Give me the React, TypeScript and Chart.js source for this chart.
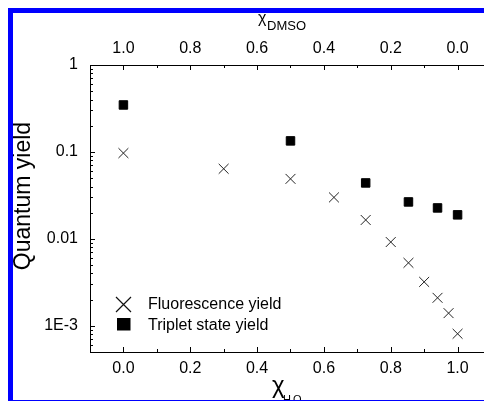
import React, { useEffect, useRef } from "react";
import { Chart, registerables } from "chart.js";

Chart.register(...registerables);

// ---- data ----
const fluoX = [0.0, 0.30, 0.50, 0.63, 0.725, 0.80, 0.853, 0.90, 0.94, 0.973, 1.0];
const fluoY = [0.097, 0.064, 0.049, 0.030, 0.0165, 0.0092, 0.0053, 0.0032, 0.0021, 0.0014, 0.00081];
const tripX = [0.0, 0.50, 0.725, 0.853, 0.94, 1.0];
const tripY = [0.347, 0.134, 0.044, 0.0266, 0.0227, 0.0189];

const fluoLabel = "Fluorescence yield";
const tripLabel = "Triplet state yield";

const xMajorTicks = [0.0, 0.2, 0.4, 0.6, 0.8, 1.0];
const xBottomLabels = ["0.0", "0.2", "0.4", "0.6", "0.8", "1.0"];
const xTopLabels = ["1.0", "0.8", "0.6", "0.4", "0.2", "0.0"];
const yDecadeTicks = [1e-3, 1e-2, 1e-1, 1];
const yTickLabels = ["1E-3", "0.01", "0.1", "1"];

const X_MIN = -0.1;
const X_MAX = 1.1;
const Y_MIN = 5e-4;
const Y_MAX = 1;

const FONT = '"Liberation Sans", Arial, sans-serif';

const decorPlugin = {
  id: "decor",
  afterDraw(chart: any) {
    const ctx = chart.ctx as CanvasRenderingContext2D;
    const xs = chart.scales.x;
    const ys = chart.scales.y;
    const area = chart.chartArea;
    ctx.save();
    ctx.strokeStyle = "#000";
    ctx.lineWidth = 1;
    ctx.beginPath();
    // x ticks (inward), bottom and top
    for (let i = -1; i <= 11; i++) {
      const v = i / 10;
      const px = Math.round(xs.getPixelForValue(v)) + 0.5;
      const major = i >= 0 && i % 2 === 0;
      const len = major ? 5 : 3;
      ctx.moveTo(px, area.bottom);
      ctx.lineTo(px, area.bottom - len);
      ctx.moveTo(px, area.top);
      ctx.lineTo(px, area.top + len);
    }
    // y log ticks (inward)
    for (let d = -4; d <= 0; d++) {
      for (let m = 1; m <= 9; m++) {
        const v = m * Math.pow(10, d);
        if (v < Y_MIN * 0.999 || v > Y_MAX * 1.001) continue;
        const py = Math.round(ys.getPixelForValue(v)) + 0.5;
        const len = m === 1 ? 5 : 3;
        ctx.moveTo(area.left, py);
        ctx.lineTo(area.left + len, py);
      }
    }
    ctx.stroke();

    ctx.fillStyle = "#000";
    // y title
    ctx.save();
    ctx.translate(29.5, 196);
    ctx.rotate(-Math.PI / 2);
    ctx.font = `23px ${FONT}`;
    ctx.textAlign = "center";
    ctx.textBaseline = "alphabetic";
    ctx.fillText("Quantum yield", 0, 0);
    ctx.restore();

    // top title chi_DMSO
    ctx.textAlign = "left";
    ctx.textBaseline = "alphabetic";
    ctx.font = `16px ${FONT}`;
    ctx.fillText("\u03c7", 258, 23);
    ctx.font = `13px ${FONT}`;
    ctx.fillText("DMSO", 267, 29.5);

    // bottom title chi_H2O
    ctx.font = `24px ${FONT}`;
    ctx.fillText("\u03c7", 272, 392.5);
    ctx.font = `11px ${FONT}`;
    ctx.fillText("H", 283, 403);
    ctx.font = `7px ${FONT}`;
    ctx.fillText("2", 291.5, 409);
    ctx.font = `11px ${FONT}`;
    ctx.fillText("O", 293, 403);

    // legend
    const ds0 = chart.data.datasets[0];
    const ds1 = chart.data.datasets[1];
    ctx.strokeStyle = "#111";
    ctx.lineWidth = 1.2;
    ctx.beginPath();
    const cx = 123.5, cy = 304.5, h = 7.5;
    ctx.moveTo(cx - h, cy - h);
    ctx.lineTo(cx + h, cy + h);
    ctx.moveTo(cx + h, cy - h);
    ctx.lineTo(cx - h, cy + h);
    ctx.stroke();
    ctx.fillStyle = "#000";
    ctx.fillRect(117, 318, 13.5, 12.5);
    ctx.font = `16px ${FONT}`;
    ctx.fillText(ds0.label, 148, 308.5);
    ctx.fillText(ds1.label, 148, 329.5);
    ctx.restore();
  },
};

export default function App() {
  const ref = useRef<HTMLCanvasElement | null>(null);

  useEffect(() => {
    if (!ref.current) return;
    const tickFont = { family: FONT, size: 16 };
    const chart = new Chart(ref.current, {
      type: "scatter",
      data: {
        datasets: [
          {
            label: fluoLabel,
            data: fluoX.map((x, i) => ({ x, y: fluoY[i] })),
            pointStyle: "crossRot",
            pointRadius: 7,
            pointBorderWidth: 1,
            borderColor: "#222",
            backgroundColor: "#222",
            showLine: false,
            xAxisID: "x",
            yAxisID: "y",
          },
          {
            label: tripLabel,
            data: tripX.map((x, i) => ({ x, y: tripY[i] })),
            pointStyle: "rect",
            pointRadius: 6,
            pointBorderWidth: 1,
            borderColor: "#000",
            backgroundColor: "#000",
            showLine: false,
            xAxisID: "x",
            yAxisID: "y",
          },
        ],
      },
      options: {
        responsive: false,
        animation: false,
        layout: { padding: { left: 0, right: 9, top: 0, bottom: 0 } },
        plugins: { legend: { display: false }, tooltip: { enabled: false } },
        scales: {
          x: {
            type: "linear",
            position: "bottom",
            min: X_MIN,
            max: X_MAX,
            afterBuildTicks: (s: any) => {
              s.ticks = xMajorTicks.map((v) => ({ value: v }));
            },
            ticks: {
              callback: (_v: any, i: number) => xBottomLabels[i],
              font: tickFont,
              color: "#000",
              padding: 7,
              maxRotation: 0,
              autoSkip: false,
            },
            grid: { display: false, drawTicks: false },
            border: { display: true, color: "#000", width: 1 },
            afterFit: (s: any) => {
              s.height = 50;
            },
          },
          x2: {
            type: "linear",
            position: "top",
            min: X_MIN,
            max: X_MAX,
            afterBuildTicks: (s: any) => {
              s.ticks = xMajorTicks.map((v) => ({ value: v }));
            },
            ticks: {
              callback: (_v: any, i: number) => xTopLabels[i],
              font: tickFont,
              color: "#000",
              padding: 7,
              maxRotation: 0,
              autoSkip: false,
            },
            grid: { display: false, drawTicks: false },
            border: { display: true, color: "#000", width: 1 },
            afterFit: (s: any) => {
              s.height = 65;
            },
          },
          y: {
            type: "logarithmic",
            position: "left",
            min: Y_MIN,
            max: Y_MAX,
            afterBuildTicks: (s: any) => {
              s.ticks = yDecadeTicks.map((v) => ({ value: v }));
            },
            ticks: {
              callback: (_v: any, i: number) => yTickLabels[i],
              font: tickFont,
              color: "#000",
              padding: 12,
              autoSkip: false,
            },
            grid: { display: false, drawTicks: false },
            border: { display: true, color: "#000", width: 1 },
            afterFit: (s: any) => {
              s.width = 90;
            },
          },
        },
      } as any,
      plugins: [decorPlugin],
    });
    return () => chart.destroy();
  }, []);

  return (
    <div
      style={{
        position: "fixed",
        left: 0,
        top: 0,
        width: 484,
        height: 402,
        background: "#fff",
        overflow: "hidden",
      }}
    >
      <div
        style={{
          position: "absolute",
          left: 0,
          top: 0,
          width: 484,
          height: 400,
          overflow: "hidden",
        }}
      >
        <canvas
          ref={ref}
          width={500}
          height={402}
          style={{ position: "absolute", left: 0, top: 0, width: 500, height: 402 }}
        />
      </div>
      <div style={{ position: "absolute", left: 8, top: 8, width: 476, height: 5, background: "#0000ff" }} />
      <div style={{ position: "absolute", left: 8, top: 8, width: 5, height: 393, background: "#0000ff" }} />
      <div style={{ position: "absolute", left: 8, top: 400, width: 476, height: 1, background: "#0000ff" }} />
    </div>
  );
}
